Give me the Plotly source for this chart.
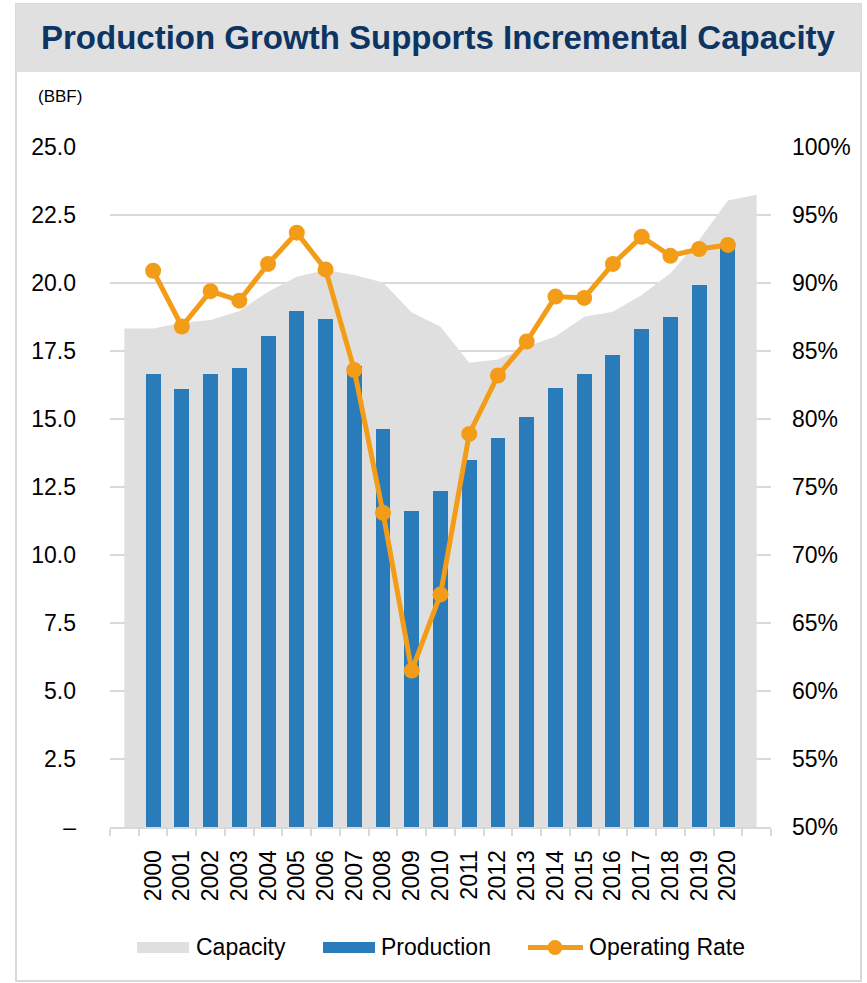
import plotly.graph_objects as go

# ---- data (BBF and %) ----
years = list(range(2000, 2021))
year_labels = [str(y) for y in years]

production = [16.65, 16.10, 16.65, 16.87, 18.05, 18.97, 18.68, 16.95, 14.63, 11.62, 12.35,
              13.49, 14.30, 15.07, 16.14, 16.65, 17.35, 18.30, 18.75, 19.93, 21.35]

capacity = [18.33, 18.54, 18.64, 18.97, 19.68, 20.23, 20.48, 20.29, 20.02, 18.92, 18.39,
            17.07, 17.19, 17.66, 18.03, 18.76, 18.94, 19.56, 20.36, 21.58, 23.03]
# the capacity band is carried out to both edges of the plot
capacity_edge_left = 18.33
capacity_edge_right = 23.24

operating_rate = [90.9, 86.8, 89.4, 88.7, 91.4, 93.7, 91.0, 83.6, 73.1, 61.5, 67.1,
                  78.9, 83.2, 85.7, 89.0, 88.9, 91.4, 93.4, 92.0, 92.5, 92.8]

left_ticks = [0, 2.5, 5, 7.5, 10, 12.5, 15, 17.5, 20, 22.5, 25]
left_ticktext = ["–"] + [f"{v:.1f}" for v in left_ticks[1:]]
right_ticks = list(range(50, 101, 5))
right_ticktext = [f"{v}%" for v in right_ticks]

# ---- styling ----
W, H = 867, 983
L, R, T, B = 110, 96, 147, 156
PW, PH = W - L - R, H - T - B
FONT = "Liberation Sans, Arial, sans-serif"
NAVY = "#0d3462"
BLUE = "#2a7bb9"
ORANGE = "#f39c17"
AREA = "#dfdfdf"
GRID = "#d9d9d9"


def px(x):
    return (x - L) / PW


def py(y):
    return (H - B - y) / PH


x_cap = [years[0] - 1] + years + [years[-1] + 1]
y_cap = [capacity_edge_left] + capacity + [capacity_edge_right]

fig = go.Figure()

# capacity band on the base subplot (drawn first)
fig.add_trace(go.Scatter(
    x=x_cap, y=y_cap, mode="lines", fill="tozeroy",
    line=dict(width=0, color=AREA), fillcolor=AREA,
    name="Capacity", showlegend=False, hoverinfo="skip"))

# production bars on an overlay axis sharing the BBF scale
fig.add_trace(go.Bar(
    x=years, y=production, width=0.52, yaxis="y2",
    marker=dict(color=BLUE, line=dict(width=0)),
    name="Production", showlegend=False))

# operating rate on the percentage axis, topmost
fig.add_trace(go.Scatter(
    x=years, y=operating_rate, yaxis="y3", mode="lines+markers",
    line=dict(color=ORANGE, width=5), marker=dict(color=ORANGE, size=16),
    name="Operating Rate", showlegend=False))

boundaries = [years[0] - 1.5 + i for i in range(len(years) + 3)]

fig.update_layout(
    width=W, height=H,
    margin=dict(l=L, r=R, t=T, b=B, pad=0),
    paper_bgcolor="white", plot_bgcolor="white",
    font=dict(family=FONT, size=23, color="#000000"),
    showlegend=False,
    bargap=0,
    xaxis=dict(
        range=[years[0] - 1.5, years[-1] + 1.5],
        tickmode="array", tickvals=years, ticktext=year_labels,
        tickangle=-90, ticks="", showgrid=False, zeroline=False,
        showline=True, linecolor=GRID, linewidth=2,
        ticklabelstandoff=12,
        minor=dict(tickmode="array", tickvals=boundaries, ticks="outside",
                   ticklen=7, tickwidth=2, tickcolor=GRID, showgrid=False),
        tickfont=dict(size=23),
    ),
    yaxis=dict(
        range=[0, 25], tickmode="array", tickvals=left_ticks, ticktext=left_ticktext,
        showgrid=True, gridcolor=GRID, gridwidth=1.5, zeroline=False,
        showline=False, ticks="", ticklabelstandoff=33, tickfont=dict(size=23),
    ),
    yaxis2=dict(
        range=[0, 25], overlaying="y", side="left", visible=False,
        showgrid=False, zeroline=False,
    ),
    yaxis3=dict(
        range=[50, 100], overlaying="y", side="right",
        tickmode="array", tickvals=right_ticks, ticktext=right_ticktext,
        showgrid=False, zeroline=False, showline=False, ticks="",
        ticklabelstandoff=20, tickfont=dict(size=23),
    ),
)

shapes = [
    # outer frame
    dict(type="rect", xref="paper", yref="paper", x0=px(16), x1=px(861), y0=py(981), y1=py(4),
         line=dict(color=GRID, width=2), fillcolor="rgba(0,0,0,0)", layer="below"),
    # title band
    dict(type="rect", xref="paper", yref="paper", x0=px(16), x1=px(861), y0=py(72), y1=py(4),
         line=dict(width=0), fillcolor="#e0e0e0", layer="below"),
    # legend keys
    dict(type="rect", xref="paper", yref="paper", x0=px(137), x1=px(189), y0=py(953), y1=py(942),
         line=dict(width=0), fillcolor=AREA),
    dict(type="rect", xref="paper", yref="paper", x0=px(323), x1=px(375), y0=py(953), y1=py(942),
         line=dict(width=0), fillcolor=BLUE),
    dict(type="line", xref="paper", yref="paper", x0=px(528), x1=px(583), y0=py(947.5), y1=py(947.5),
         line=dict(color=ORANGE, width=5)),
    dict(type="circle", xref="paper", yref="paper", x0=px(547.5), x1=px(562.5), y0=py(955), y1=py(940),
         line=dict(width=0), fillcolor=ORANGE),
]
fig.update_layout(shapes=shapes)

annotations = [
    dict(text="Production Growth Supports Incremental Capacity", xref="paper", yref="paper",
         x=px(438.5), y=py(38), xanchor="center", yanchor="middle", showarrow=False,
         font=dict(family=FONT, size=33, color=NAVY, weight="bold")),
    dict(text="(BBF)", xref="paper", yref="paper", x=px(36), y=py(96),
         xanchor="left", yanchor="middle", showarrow=False,
         font=dict(family=FONT, size=17, color="#000000")),
    dict(text="Capacity", xref="paper", yref="paper", x=px(194), y=py(947),
         xanchor="left", yanchor="middle", showarrow=False, font=dict(size=23)),
    dict(text="Production", xref="paper", yref="paper", x=px(379), y=py(947),
         xanchor="left", yanchor="middle", showarrow=False, font=dict(size=23)),
    dict(text="Operating Rate", xref="paper", yref="paper", x=px(587), y=py(947),
         xanchor="left", yanchor="middle", showarrow=False, font=dict(size=23)),
]
fig.update_layout(annotations=annotations)

fig.write_html("out.html")
